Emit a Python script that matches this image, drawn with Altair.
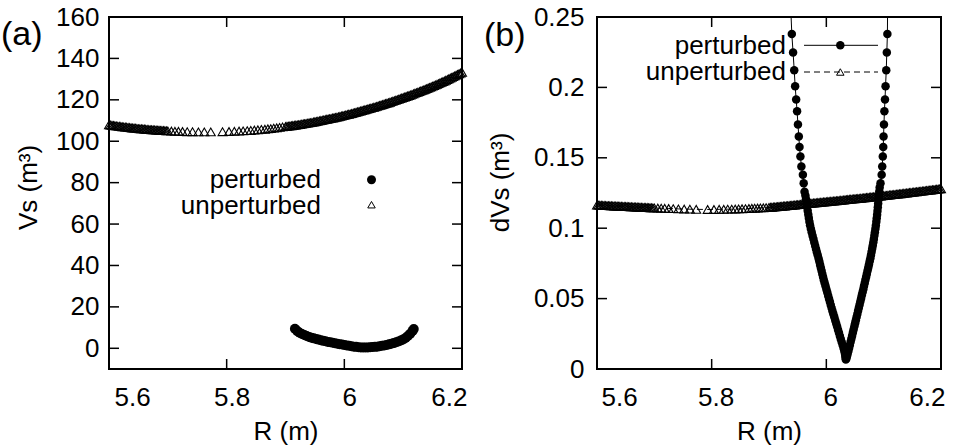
import altair as alt
import pandas as pd

# ---------------- data ----------------
# unperturbed: R grid (shared by both panels)
R_unpert_1 = [5.600, 5.605, 5.610, 5.615, 5.620, 5.625, 5.630, 5.635, 5.640, 5.645,
              5.650, 5.655, 5.660, 5.665, 5.670, 5.675, 5.680, 5.685, 5.690, 5.695, 5.700]
R_unpert_2 = [5.706, 5.712, 5.718, 5.725, 5.733, 5.742, 5.752, 5.762, 5.773, 5.793,
              5.804, 5.813, 5.821, 5.828, 5.835, 5.841, 5.847, 5.853, 5.859]
R_unpert_3 = [5.865, 5.870, 5.875, 5.880, 5.885, 5.890, 5.895, 5.900, 5.905, 5.910,
              5.915, 5.920, 5.925, 5.930, 5.935, 5.940, 5.945, 5.950, 5.955, 5.960,
              5.965, 5.970, 5.975, 5.980, 5.985, 5.990, 5.995, 6.000, 6.005, 6.010,
              6.015, 6.020, 6.025, 6.030, 6.035, 6.040, 6.045, 6.050, 6.055, 6.060,
              6.065, 6.070, 6.075, 6.080, 6.085, 6.090, 6.095, 6.100, 6.105, 6.110,
              6.115, 6.120, 6.125, 6.130, 6.135, 6.140, 6.145, 6.150, 6.155, 6.160,
              6.165, 6.170, 6.175, 6.180, 6.185, 6.190, 6.195, 6.200]
R_unpert_4 = [5.6025, 5.6075, 5.6125, 5.6175, 5.6225, 5.6275, 5.6325, 5.6375, 5.6425, 5.6475,
              5.6525, 5.6575, 5.6625, 5.6675, 5.6725, 5.6775, 5.6825, 5.6875, 5.6925, 5.6975]
R_unpert_5 = [5.9025, 5.9075, 5.9125, 5.9175, 5.9225, 5.9275, 5.9325, 5.9375, 5.9425, 5.9475,
              5.9525, 5.9575, 5.9625, 5.9675, 5.9725, 5.9775, 5.9825, 5.9875, 5.9925, 5.9975,
              6.0025, 6.0075, 6.0125, 6.0175, 6.0225, 6.0275, 6.0325, 6.0375, 6.0425, 6.0475,
              6.0525, 6.0575, 6.0625, 6.0675, 6.0725, 6.0775, 6.0825, 6.0875, 6.0925, 6.0975,
              6.1025, 6.1075, 6.1125, 6.1175, 6.1225, 6.1275, 6.1325, 6.1375, 6.1425, 6.1475,
              6.1525, 6.1575, 6.1625, 6.1675, 6.1725, 6.1775, 6.1825, 6.1875, 6.1925, 6.1975]

Vs_unpert_1 = [107.9, 107.7, 107.5, 107.3, 107.1, 106.9, 106.8, 106.6, 106.4, 106.3,
               106.1, 106.0, 105.9, 105.7, 105.6, 105.5, 105.4, 105.3, 105.2, 105.1, 105.0]
Vs_unpert_2 = [104.9, 104.8, 104.8, 104.7, 104.6, 104.6, 104.5, 104.5, 104.5, 104.6,
               104.7, 104.8, 104.9, 105.0, 105.1, 105.2, 105.4, 105.5, 105.7]
Vs_unpert_3 = [105.8, 106.0, 106.1, 106.3, 106.5, 106.7, 106.9, 107.1, 107.3, 107.5,
               107.7, 107.9, 108.1, 108.4, 108.6, 108.9, 109.1, 109.4, 109.7, 110.0,
               110.3, 110.6, 110.9, 111.2, 111.5, 111.8, 112.2, 112.5, 112.9, 113.2,
               113.6, 114.0, 114.4, 114.8, 115.2, 115.6, 116.0, 116.4, 116.8, 117.3,
               117.7, 118.2, 118.6, 119.1, 119.6, 120.1, 120.6, 121.1, 121.6, 122.1,
               122.6, 123.2, 123.7, 124.3, 124.8, 125.4, 126.0, 126.6, 127.2, 127.8,
               128.5, 129.1, 129.8, 130.5, 131.2, 131.9, 132.6, 133.3]
Vs_unpert_4 = [107.8, 107.6, 107.4, 107.2, 107.0, 106.85, 106.7, 106.5, 106.35, 106.2,
               106.05, 105.95, 105.8, 105.65, 105.55, 105.45, 105.35, 105.25, 105.15, 105.05]
Vs_unpert_5 = [107.2, 107.4, 107.6, 107.8, 108.0, 108.25, 108.5, 108.75, 109.0, 109.25,
               109.55, 109.85, 110.15, 110.45, 110.75, 111.05, 111.35, 111.65, 112.0, 112.35,
               112.7, 113.05, 113.4, 113.8, 114.2, 114.6, 115.0, 115.4, 115.8, 116.2,
               116.6, 117.05, 117.5, 117.95, 118.4, 118.85, 119.35, 119.85, 120.35, 120.85,
               121.35, 121.85, 122.35, 122.9, 123.45, 124.0, 124.55, 125.1, 125.7, 126.3,
               126.9, 127.5, 128.15, 128.8, 129.45, 130.15, 130.85, 131.55, 132.25, 132.95]

dVs_unpert_1 = [0.1164, 0.1163, 0.1162, 0.1161, 0.1160, 0.1159, 0.1158, 0.1157, 0.1156, 0.1155,
                0.1154, 0.1153, 0.1152, 0.1151, 0.1150, 0.1149, 0.1148, 0.1147, 0.1146, 0.1145, 0.1144]
dVs_unpert_2 = [0.1143, 0.1142, 0.1141, 0.1140, 0.1139, 0.1137, 0.1136, 0.1135, 0.1134, 0.1133,
                0.1133, 0.1134, 0.1134, 0.1135, 0.1135, 0.1136, 0.1137, 0.1138, 0.1139]
dVs_unpert_3 = [0.1140, 0.1141, 0.1142, 0.1143, 0.1144, 0.1145, 0.1146, 0.1148, 0.1149, 0.1151,
                0.1153, 0.1155, 0.1157, 0.1159, 0.1161, 0.1163, 0.1165, 0.1167, 0.1169, 0.1171,
                0.1174, 0.1176, 0.1178, 0.1180, 0.1182, 0.1184, 0.1186, 0.1188, 0.1190, 0.1192,
                0.1194, 0.1196, 0.1198, 0.1200, 0.1203, 0.1205, 0.1207, 0.1209, 0.1211, 0.1213,
                0.1215, 0.1218, 0.1220, 0.1222, 0.1224, 0.1226, 0.1229, 0.1231, 0.1233, 0.1236,
                0.1238, 0.1240, 0.1243, 0.1245, 0.1248, 0.1250, 0.1253, 0.1255, 0.1258, 0.1260,
                0.1263, 0.1265, 0.1268, 0.1270, 0.1273, 0.1275, 0.1278, 0.1280]
dVs_unpert_4 = [0.11635, 0.11625, 0.11615, 0.11605, 0.11595, 0.11585, 0.11575, 0.11565, 0.11555, 0.11545,
                0.11535, 0.11525, 0.11515, 0.11505, 0.11495, 0.11485, 0.11475, 0.11465, 0.11455, 0.11445]
dVs_unpert_5 = [0.11485, 0.1150, 0.1152, 0.1154, 0.1156, 0.1158, 0.1160, 0.1162, 0.1164, 0.1166,
                0.1168, 0.1170, 0.11725, 0.1175, 0.1177, 0.1179, 0.1181, 0.1183, 0.1185, 0.1187,
                0.1189, 0.1191, 0.1193, 0.1195, 0.1197, 0.1199, 0.12015, 0.1204, 0.1206, 0.1208,
                0.1210, 0.1212, 0.1214, 0.12165, 0.1219, 0.1221, 0.1223, 0.1225, 0.12275, 0.1230,
                0.1232, 0.12345, 0.1237, 0.1239, 0.12415, 0.1244, 0.12465, 0.1249, 0.12515, 0.1254,
                0.12565, 0.1259, 0.12615, 0.1264, 0.12665, 0.1269, 0.12715, 0.1274, 0.12765, 0.1279]

# perturbed, panel (a)
R_pert_a = [5.916, 5.920, 5.924, 5.928, 5.932, 5.936, 5.940, 5.944, 5.948, 5.952,
            5.956, 5.960, 5.964, 5.968, 5.972, 5.976, 5.980, 5.984, 5.988, 5.992,
            5.996, 6.000, 6.004, 6.008, 6.012, 6.016, 6.020, 6.024, 6.028, 6.032,
            6.036, 6.040, 6.044, 6.048, 6.052, 6.056, 6.060, 6.064, 6.068, 6.072,
            6.076, 6.080, 6.084, 6.088, 6.092, 6.096, 6.100, 6.104, 6.108, 6.112,
            6.116, 6.118]
Vs_pert_a = [9.4, 8.3, 7.5, 6.9, 6.4, 5.9, 5.5, 5.1, 4.8, 4.5,
             4.2, 3.9, 3.6, 3.4, 3.1, 2.9, 2.7, 2.4, 2.2, 2.0,
             1.8, 1.6, 1.4, 1.2, 1.0, 0.8, 0.7, 0.5, 0.4, 0.4,
             0.4, 0.4, 0.5, 0.6, 0.7, 0.8, 1.0, 1.2, 1.4, 1.6,
             1.9, 2.2, 2.5, 2.9, 3.3, 3.8, 4.3, 5.0, 5.9, 7.0,
             8.4, 9.3]

# perturbed, panel (b): left arm (top -> tip), right arm (tip -> top)
R_pb_left_sparse = [5.9398, 5.9420, 5.9440, 5.9456, 5.9474, 5.9490, 5.9505, 5.9520, 5.9532, 5.9548,
                    5.9565, 5.9591, 5.9605, 5.9620]
dVs_pb_left_sparse = [0.2379, 0.2248, 0.2121, 0.2009, 0.1914, 0.1831, 0.1736, 0.1652, 0.1576, 0.1509,
                      0.1438, 0.1379, 0.1319, 0.1259]
R_pb_left_dense = [5.9635, 5.9645, 5.9655, 5.9665, 5.9675, 5.9685, 5.9695, 5.9705, 5.9716, 5.9730,
                   5.9745, 5.9760, 5.9775, 5.9790, 5.9805, 5.9820, 5.9835, 5.9850, 5.9865, 5.9878,
                   5.9891, 5.9904, 5.9917, 5.9930, 5.9943, 5.9957, 5.9972, 5.9987, 6.0002, 6.0017,
                   6.0032, 6.0047, 6.0062, 6.0077, 6.0092, 6.0108, 6.0124, 6.0140, 6.0156, 6.0172,
                   6.0188, 6.0204, 6.0220, 6.0236, 6.0252, 6.0268, 6.0284, 6.0300, 6.0312, 6.0322,
                   6.0330, 6.0335, 6.0340]
dVs_pb_left_dense = [0.1232, 0.1205, 0.1178, 0.1151, 0.1124, 0.1098, 0.1072, 0.1046, 0.1021, 0.0996,
                     0.0971, 0.0947, 0.0923, 0.0899, 0.0876, 0.0853, 0.0830, 0.0807, 0.0785, 0.0763,
                     0.0741, 0.0719, 0.0697, 0.0675, 0.0653, 0.0631, 0.0609, 0.0587, 0.0565, 0.0543,
                     0.0521, 0.0499, 0.0477, 0.0455, 0.0433, 0.0411, 0.0389, 0.0367, 0.0345, 0.0323,
                     0.0301, 0.0279, 0.0257, 0.0235, 0.0213, 0.0191, 0.0170, 0.0150, 0.0131, 0.0113,
                     0.0096, 0.0080, 0.0068]
R_pb_right_dense = [6.0350, 6.0360, 6.0372, 6.0385, 6.0398, 6.0411, 6.0424, 6.0437, 6.0450, 6.0463,
                    6.0476, 6.0489, 6.0502, 6.0515, 6.0528, 6.0541, 6.0554, 6.0567, 6.0580, 6.0593,
                    6.0606, 6.0619, 6.0632, 6.0645, 6.0657, 6.0670, 6.0682, 6.0695, 6.0707, 6.0720,
                    6.0732, 6.0744, 6.0756, 6.0768, 6.0779, 6.0790, 6.0800, 6.0810, 6.0820, 6.0829,
                    6.0838, 6.0847, 6.0856, 6.0864, 6.0872, 6.0879, 6.0886, 6.0892, 6.0898, 6.0904,
                    6.0910, 6.0917, 6.0924, 6.0930]
dVs_pb_right_dense = [0.0075, 0.0090, 0.0108, 0.0127, 0.0149, 0.0171, 0.0193, 0.0215, 0.0237, 0.0259,
                      0.0281, 0.0303, 0.0325, 0.0347, 0.0369, 0.0391, 0.0413, 0.0435, 0.0457, 0.0479,
                      0.0501, 0.0523, 0.0545, 0.0567, 0.0589, 0.0611, 0.0633, 0.0655, 0.0677, 0.0699,
                      0.0721, 0.0743, 0.0765, 0.0787, 0.0809, 0.0832, 0.0855, 0.0878, 0.0901, 0.0924,
                      0.0948, 0.0972, 0.0996, 0.1020, 0.1045, 0.1070, 0.1096, 0.1122, 0.1149, 0.1176,
                      0.1204, 0.1232, 0.1260, 0.1289]
R_pb_right_sparse = [6.0945, 6.0965, 6.0975, 6.0985, 6.0993, 6.0998, 6.1005, 6.1013, 6.1023, 6.1033,
                     6.1045, 6.1055, 6.1065]
dVs_pb_right_sparse = [0.1319, 0.1379, 0.1438, 0.1509, 0.1576, 0.1652, 0.1736, 0.1831, 0.1914, 0.2009,
                       0.2121, 0.2248, 0.2379]
# next (off-scale) points, only reached by the connecting line
R_pb_offscale = [5.9384, 6.1068]
dVs_pb_offscale = [0.2515, 0.2515]

x_ticks = [5.6, 5.8, 6.0, 6.2]
y_ticks_a = [0, 20, 40, 60, 80, 100, 120, 140, 160]
y_ticks_b = [0, 0.05, 0.1, 0.15, 0.2, 0.25]
legend_labels = ["perturbed", "unperturbed"]
panel_labels = ["(a)", "(b)"]
x_title = "R (m)"
y_titles = ["Vs (m³)", "dVs (m³)"]

# ---------------- layout constants ----------------
FONT = "Liberation Sans"
FS = 26
W_A, W_B, H = 353, 344, 352
LEFT, TOP = 108, 16
SPACING = 135
TL = 10
TRI = 80

df_unp = pd.DataFrame({
    "R": R_unpert_1 + R_unpert_2 + R_unpert_3 + R_unpert_4 + R_unpert_5,
    "Vs": Vs_unpert_1 + Vs_unpert_2 + Vs_unpert_3 + Vs_unpert_4 + Vs_unpert_5,
    "dVs": dVs_unpert_1 + dVs_unpert_2 + dVs_unpert_3 + dVs_unpert_4 + dVs_unpert_5,
}).sort_values("R").reset_index(drop=True)
df_pa = pd.DataFrame({"R": R_pert_a, "Vs": Vs_pert_a})
R_pb = R_pb_left_sparse + R_pb_left_dense + R_pb_right_dense + R_pb_right_sparse
dVs_pb = dVs_pb_left_sparse + dVs_pb_left_dense + dVs_pb_right_dense + dVs_pb_right_sparse
df_pb = pd.DataFrame({"R": R_pb, "dVs": dVs_pb})
df_pb_line = pd.DataFrame({"R": [R_pb_offscale[0]] + R_pb + [R_pb_offscale[1]],
                           "dVs": [dVs_pb_offscale[0]] + dVs_pb + [dVs_pb_offscale[1]]})
df_pb_line["i"] = range(len(df_pb_line))

xs = alt.Scale(domain=[5.6, 6.2], nice=False, zero=False)
ys_a = alt.Scale(domain=[-10, 160], nice=False, zero=False)
ys_b = alt.Scale(domain=[0, 0.25], nice=False, zero=False)


def x_axis(offset):
    return alt.Axis(values=x_ticks, format="~g", title=x_title, labelOffset=offset,
                    labelPadding=36, labelBaseline="alphabetic",
                    titleY=70, titleBaseline="alphabetic")


def y_axis(vals, fmt, title, pad, tx, ty):
    return alt.Axis(values=vals, format=fmt, title=title, labelPadding=pad,
                    titleX=tx, titleY=ty, titleAngle=270, titleAlign="center",
                    titleBaseline="alphabetic")


AX_A = x_axis(5)
AX_B = x_axis(4)
AY_A = y_axis(y_ticks_a, "d", y_titles[0], 10, -73, 170)
AY_B = y_axis(y_ticks_b, "~g", y_titles[1], 13, -89, 165)


def tick_layers(yvals, yscale, W, ax_x, ax_y):
    dfx = pd.DataFrame({"R": x_ticks})
    dfy = pd.DataFrame({"v": yvals})
    r = alt.Chart(dfx).mark_rule(color="black", strokeWidth=1.5)
    ry = alt.Chart(dfy).mark_rule(color="black", strokeWidth=1.5)
    X = alt.X("R:Q", scale=xs, axis=ax_x)
    Y = alt.Y("v:Q", scale=yscale, axis=ax_y)
    return [
        r.encode(x=X, y=alt.value(H), y2=alt.value(H - TL)),
        r.encode(x=X, y=alt.value(0), y2=alt.value(TL)),
        ry.encode(y=Y, x=alt.value(0), x2=alt.value(TL)),
        ry.encode(y=Y, x=alt.value(W), x2=alt.value(W - TL)),
    ]


def text_layer(label, x, y, size=FS, align="right"):
    return alt.Chart(pd.DataFrame({"label": [label]})).mark_text(
        font=FONT, fontSize=size, align=align, baseline="alphabetic", color="black"
    ).encode(text="label:N", x=alt.value(x), y=alt.value(y))


one = pd.DataFrame({"k": [0]})

# ---------------- panel (a) ----------------
pert_a = alt.Chart(df_pa).mark_circle(size=100, color="black", opacity=1).encode(
    x=alt.X("R:Q", scale=xs, axis=AX_A),
    y=alt.Y("Vs:Q", scale=ys_a, axis=AY_A),
)
unp_a = alt.Chart(df_unp).mark_point(
    shape="triangle-up", filled=False, stroke="black", strokeWidth=1.1, size=TRI, opacity=1
).encode(
    x=alt.X("R:Q", scale=xs, axis=AX_A),
    y=alt.Y("Vs:Q", scale=ys_a, axis=AY_A),
)
leg_a = [
    text_layer(legend_labels[0], 212, 171.3),
    text_layer(legend_labels[1], 212, 197.3),
    alt.Chart(one).mark_circle(size=81, color="black", opacity=1).encode(
        x=alt.value(262.5), y=alt.value(162.7)),
    alt.Chart(one).mark_point(shape="triangle-up", filled=False, stroke="black",
                              strokeWidth=1, size=56, opacity=1).encode(
        x=alt.value(262.5), y=alt.value(187.7)),
]
anchor = alt.Chart(one).mark_rule(opacity=0, strokeWidth=0).encode(
    x=alt.value(-LEFT), x2=alt.value(-LEFT), y=alt.value(-TOP), y2=alt.value(-TOP))

panel_a = alt.layer(
    pert_a, unp_a, *tick_layers(y_ticks_a, ys_a, W_A, AX_A, AY_A), *leg_a,
    text_layer(panel_labels[0], -108, 27.5, size=34, align="left"), anchor
).properties(width=W_A, height=H)

# ---------------- panel (b) ----------------
pert_b_line = alt.Chart(df_pb_line).mark_line(color="black", strokeWidth=1, clip=True).encode(
    x=alt.X("R:Q", scale=xs, axis=AX_B),
    y=alt.Y("dVs:Q", scale=ys_b, axis=AY_B),
    order="i:Q",
)
pert_b = alt.Chart(df_pb).mark_circle(size=72, color="black", opacity=1).encode(
    x=alt.X("R:Q", scale=xs, axis=AX_B),
    y=alt.Y("dVs:Q", scale=ys_b, axis=AY_B),
)
unp_b_line = alt.Chart(df_unp).mark_line(color="black", strokeWidth=1, strokeDash=[6, 4]).encode(
    x=alt.X("R:Q", scale=xs, axis=AX_B),
    y=alt.Y("dVs:Q", scale=ys_b, axis=AY_B),
)
unp_b = alt.Chart(df_unp).mark_point(
    shape="triangle-up", filled=False, stroke="black", strokeWidth=1.1, size=TRI, opacity=1
).encode(
    x=alt.X("R:Q", scale=xs, axis=AX_B),
    y=alt.Y("dVs:Q", scale=ys_b, axis=AY_B),
)
leg_b = [
    text_layer(legend_labels[0], 189, 37.3),
    text_layer(legend_labels[1], 189, 63.3),
    alt.Chart(one).mark_rule(color="black", strokeWidth=1).encode(
        x=alt.value(207), x2=alt.value(281), y=alt.value(28.3)),
    alt.Chart(one).mark_circle(size=72, color="black", opacity=1).encode(
        x=alt.value(243.3), y=alt.value(28.3)),
    alt.Chart(one).mark_rule(color="black", strokeWidth=1, strokeDash=[6, 4]).encode(
        x=alt.value(207), x2=alt.value(281), y=alt.value(55)),
    alt.Chart(one).mark_point(shape="triangle-up", filled=False, stroke="black",
                              strokeWidth=1, size=56, opacity=1).encode(
        x=alt.value(243.3), y=alt.value(55)),
]

panel_b = alt.layer(
    pert_b_line, pert_b, unp_b_line, unp_b,
    *tick_layers(y_ticks_b, ys_b, W_B, AX_B, AY_B), *leg_b,
    text_layer(panel_labels[1], -113, 29, size=34, align="left")
).properties(width=W_B, height=H)

chart = alt.hconcat(panel_a, panel_b, spacing=SPACING, bounds="flush").properties(
    padding=0, autosize=alt.AutoSizeParams(type="pad"), background="white"
).configure_view(
    stroke="black", strokeWidth=2
).configure_axis(
    ticks=False, domain=False, grid=False,
    labelFont=FONT, labelFontSize=FS, labelColor="black",
    titleFont=FONT, titleFontSize=FS, titleFontWeight="normal", titleColor="black",
)

chart.save("out.html", embed_options={"renderer": "svg", "actions": False})
